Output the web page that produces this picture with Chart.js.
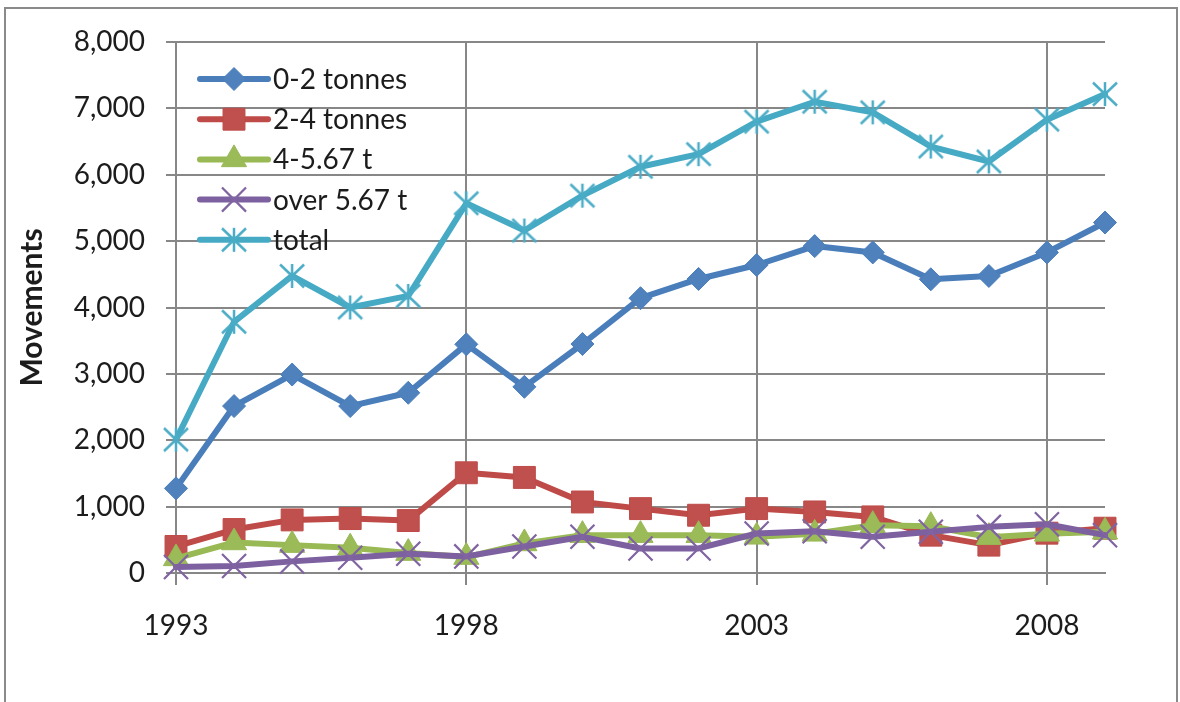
<!DOCTYPE html>
<html>
<head>
<meta charset="utf-8">
<title>Movements by weight class</title>
<script src="https://cdn.jsdelivr.net/npm/chart.js@4.4.1/dist/chart.umd.min.js"></script>
<style>
  html, body { margin: 0; padding: 0; background: #ffffff; }
  #wrap { width: 1180px; height: 702px; }
</style>
</head>
<body>
<div id="wrap"><canvas id="chart" width="1180" height="702"></canvas></div>
<script>
// Years on the category axis and the years that carry a labelled tick
const years = [1993, 1994, 1995, 1996, 1997, 1998, 1999, 2000, 2001,
               2002, 2003, 2004, 2005, 2006, 2007, 2008, 2009];
const labelledYears = [1993, 1998, 2003, 2008];

// Movements per year by aircraft weight class
const tonnes0to2   = [1275, 2515, 2990, 2515, 2715, 3445, 2805, 3450, 4140,
                      4430, 4640, 4925, 4830, 4425, 4475, 4830, 5280];
const tonnes2to4   = [400, 655, 800, 820, 790, 1510, 1440, 1070, 970,
                      870, 970, 920, 845, 570, 420, 600, 675];
const tonnes4to567 = [220, 460, 420, 380, 300, 240, 445, 570, 570,
                      570, 545, 590, 720, 705, 540, 590, 620];
const over567      = [90, 105, 175, 230, 290, 250, 400, 545, 370,
                      370, 595, 630, 545, 620, 695, 735, 570];
const totalMoves   = [2010, 3785, 4475, 4000, 4175, 5570, 5160, 5685, 6120,
                      6310, 6800, 7100, 6940, 6425, 6200, 6830, 7215];

const seriesNames = ['0-2 tonnes', '2-4 tonnes', '4-5.67 t', 'over 5.67 t', 'total'];

// Y axis range and step
const yMin = 0, yMax = 8000, yStep = 1000;

const GRID = '#878787';
const TEXT = '#1c1c1c';
const FONT = 'Lato, "Liberation Sans", sans-serif';

// Asterisk marker (x with a vertical stroke) for the total series
function asteriskMarker(color) {
  const c = document.createElement('canvas');
  c.width = 28; c.height = 28;
  const g = c.getContext('2d');
  g.strokeStyle = color;
  g.lineWidth = 2.5;
  g.lineCap = 'butt';
  g.beginPath();
  g.moveTo(2, 2.5);  g.lineTo(26, 25.5);
  g.moveTo(26, 2.5); g.lineTo(2, 25.5);
  g.moveTo(14, 2);   g.lineTo(14, 26);
  g.stroke();
  return c;
}

function series(label, data, line, fill, style, radius, order, borderW) {
  return {
    label, data,
    borderColor: line,
    backgroundColor: fill,
    borderWidth: 6,
    borderJoinStyle: 'round',
    borderCapStyle: 'round',
    pointStyle: style,
    pointRadius: radius,
    pointHoverRadius: radius,
    pointBackgroundColor: fill,
    pointBorderColor: style === 'crossRot' ? fill : line,
    pointBorderWidth: borderW,
    tension: 0,
    clip: false,
    order
  };
}

const datasets = [
  series(seriesNames[0], tonnes0to2,   '#4a7ebb', '#4f81bd', 'rectRot', 11.5, 5, 1),
  series(seriesNames[1], tonnes2to4,   '#be4b48', '#c0504d', 'rect', 15.5, 4, 1),
  series(seriesNames[2], tonnes4to567, '#98b954', '#9bbb59', 'triangle', 14.5, 3, 1),
  series(seriesNames[3], over567,      '#7d60a0', '#8064a2', 'crossRot', 17, 2, 2.2),
  series(seriesNames[4], totalMoves,   '#46aac5', '#4bacc6', asteriskMarker('#4bacc6'), 14, 1, 0)
];

// White page with the grey frame around the whole chart
const framePlugin = {
  id: 'frame',
  beforeDraw(chart) {
    const ctx = chart.ctx;
    ctx.save();
    ctx.fillStyle = '#ffffff';
    ctx.fillRect(0, 0, chart.width, chart.height);
    ctx.strokeStyle = '#8a8a8a';
    ctx.lineWidth = 2;
    ctx.strokeRect(5, 8, 1172, 720);
    ctx.restore();
  }
};

// Legend drawn inside the plot: line sample with marker, then the name
const plotLegend = {
  id: 'plotLegend',
  afterDraw(chart) {
    const ctx = chart.ctx;
    const area = chart.chartArea;
    const lineX0 = area.left + 24, lineX1 = area.left + 92;
    const markX = (lineX0 + lineX1) / 2;
    const textX = area.left + 97;
    const rowY0 = area.top + 37, rowGap = 40.2;
    ctx.save();
    chart.data.datasets.forEach((ds, i) => {
      const y = rowY0 + i * rowGap;
      ctx.strokeStyle = ds.borderColor;
      ctx.lineWidth = 6;
      ctx.lineCap = 'round';
      ctx.beginPath();
      ctx.moveTo(lineX0, y);
      ctx.lineTo(lineX1, y);
      ctx.stroke();
      ctx.fillStyle = ds.pointBackgroundColor;
      ctx.strokeStyle = ds.pointBorderColor;
      ctx.lineWidth = ds.pointBorderWidth;
      ctx.lineCap = 'butt';
      Chart.helpers.drawPoint(ctx, {
        pointStyle: ds.pointStyle,
        radius: ds.pointRadius,
        rotation: 0,
        borderWidth: ds.pointBorderWidth
      }, markX, y);
      ctx.fillStyle = TEXT;
      ctx.font = '28px ' + FONT;
      ctx.textAlign = 'left';
      ctx.textBaseline = 'middle';
      ctx.fillText(ds.label, textX, y + 1);
    });
    ctx.restore();
  }
};

const isLabelled = i => labelledYears.includes(years[i]);

new Chart(document.getElementById('chart'), {
  type: 'line',
  data: { labels: years.map(String), datasets },
  options: {
    responsive: false,
    animation: false,
    devicePixelRatio: 1,
    layout: { padding: { left: 5, top: 42, right: 75, bottom: 0 } },
    plugins: {
      legend: { display: false },
      tooltip: { enabled: false }
    },
    scales: {
      x: {
        type: 'category',
        offset: false,
        grid: {
          offset: false,
          lineWidth: 2,
          color: c => isLabelled(c.index) ? GRID : 'rgba(0,0,0,0)',
          tickColor: c => isLabelled(c.index) ? GRID : 'rgba(0,0,0,0)',
          tickLength: 12,
          drawTicks: true
        },
        border: { display: true, color: GRID, width: 2 },
        ticks: {
          autoSkip: false,
          maxRotation: 0,
          minRotation: 0,
          padding: 24,
          color: TEXT,
          font: { family: FONT, size: 28 },
          callback: (v, i) => isLabelled(i) ? String(years[i]) : ''
        },
        afterFit: s => { s.height = 129; }
      },
      y: {
        min: yMin,
        max: yMax,
        grid: { lineWidth: 2, color: GRID, tickColor: GRID, tickLength: 10 },
        border: { display: true, color: GRID, width: 2 },
        ticks: {
          stepSize: yStep,
          padding: 21,
          color: TEXT,
          font: { family: FONT, size: 28 },
          callback: v => v.toLocaleString('en-US')
        },
        title: {
          display: true,
          text: 'Movements',
          color: TEXT,
          font: { family: FONT, size: 30, weight: 'bold' },
          padding: { top: 9, bottom: 0 }
        },
        afterFit: s => { s.width = 171; }
      }
    }
  },
  plugins: [framePlugin, plotLegend]
});
</script>
</body>
</html>
